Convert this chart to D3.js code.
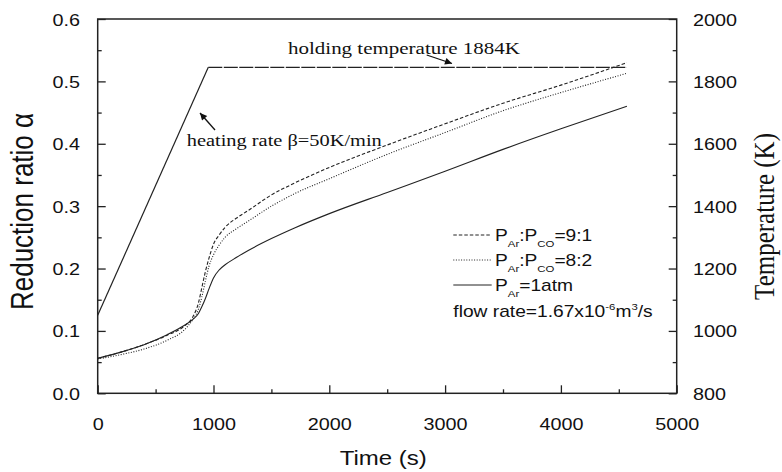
<!DOCTYPE html>
<html>
<head>
<meta charset="utf-8">
<script src="https://cdn.jsdelivr.net/npm/d3@7"></script>
<style>
  body { margin: 0; background: #fff; }
  .sans { font-family: "Liberation Sans", Arial, sans-serif; fill: #111; }
  .serif { font-family: "Liberation Serif", "Times New Roman", serif; fill: #111; }
  .axis path, .axis line { stroke: #222; }
</style>
</head>
<body>
<svg id="chart"></svg>
<script>
// svg size and plot margins
const width = 782;
const height = 472;

const margin = {
  top: 19,
  bottom: 78.7,
  left: 97.7,
  right: 105.3
};

const plotWidth = width - margin.left - margin.right;
const plotHeight = height - margin.top - margin.bottom;

// the original figure is stretched a bit sideways, so its text is too
const SX = 1.2;

// tick values
const timeTicks = [0, 1000, 2000, 3000, 4000, 5000];
const timeMinor = [500, 1500, 2500, 3500, 4500];
const alphaTicks = [0.0, 0.1, 0.2, 0.3, 0.4, 0.5, 0.6];
const alphaMinor = [0.05, 0.15, 0.25, 0.35, 0.45, 0.55];
const tempTicks = [800, 1000, 1200, 1400, 1600, 1800, 2000];
const tempMinor = [900, 1100, 1300, 1500, 1700, 1900];

// reduction curves
const time = [0, 200, 400, 600, 750, 820, 870, 900, 930, 960, 1000, 1050, 1100, 1200,
  1300, 1500, 1700, 2000, 2500, 3000, 3500, 4000, 4570];
const alpha91 = [0.056, 0.066, 0.078, 0.093, 0.108, 0.122, 0.145, 0.170, 0.195, 0.216, 0.239,
  0.254, 0.266, 0.281, 0.293, 0.318, 0.337, 0.362, 0.398, 0.432, 0.465, 0.494, 0.530];
const alpha82 = [0.055, 0.062, 0.071, 0.085, 0.102, 0.118, 0.135, 0.155, 0.180, 0.203, 0.222,
  0.238, 0.250, 0.264, 0.276, 0.300, 0.320, 0.344, 0.383, 0.418, 0.453, 0.482, 0.513];
const alphaAr = [0.056, 0.066, 0.078, 0.094, 0.109, 0.118, 0.128, 0.139, 0.152, 0.167, 0.185,
  0.198, 0.206, 0.218, 0.229, 0.248, 0.265, 0.288, 0.322, 0.356, 0.391, 0.424, 0.460];

// furnace temperature: 50 K/min ramp then hold
const tempTime = [0, 955, 4570];
const tempK = [1050, 1845, 1845];

const series = [
  {name: "9:1", values: alpha91, dash: "3.5,2"},
  {name: "8:2", values: alpha82, dash: "1,1.6"},
  {name: "1atm", values: alphaAr, dash: null}
];

const svg = d3.select("#chart")
  .attr("width", width)
  .attr("height", height);

const plot = svg.append("g")
  .attr("id", "plot")
  .attr("transform", translate(margin.left, margin.top));

const xScale = d3.scaleLinear()
  .domain([0, 5000])
  .range([0, plotWidth]);

const yScale = d3.scaleLinear()
  .domain([0, 0.6])
  .range([plotHeight, 0]);

const tScale = d3.scaleLinear()
  .domain([800, 2000])
  .range([plotHeight, 0]);

drawAxis();
drawLines();
drawTemperature();
drawLegend();
drawTitles();

function drawAxis() {
  // frame
  plot.append("rect")
    .attr("width", plotWidth)
    .attr("height", plotHeight)
    .attr("fill", "none")
    .attr("stroke", "#222")
    .attr("stroke-width", 1.5);

  // minor ticks first, no labels
  plot.append("g").attr("class", "axis")
    .attr("transform", translate(0, plotHeight))
    .call(d3.axisBottom(xScale).tickValues(timeMinor).tickSize(-4).tickFormat(""))
    .select("path.domain").remove();
  plot.append("g").attr("class", "axis")
    .call(d3.axisLeft(yScale).tickValues(alphaMinor).tickSize(-4).tickFormat(""))
    .select("path.domain").remove();
  plot.append("g").attr("class", "axis")
    .attr("transform", translate(plotWidth, 0))
    .call(d3.axisRight(tScale).tickValues(tempMinor).tickSize(-4).tickFormat(""))
    .select("path.domain").remove();

  let xAxis = plot.append("g").attr("id", "x-axis").attr("class", "axis")
    .attr("transform", translate(0, plotHeight))
    .call(d3.axisBottom(xScale).tickValues(timeTicks).tickSize(-8).tickFormat(d3.format("d")));
  xAxis.select("path.domain").remove();
  xAxis.selectAll("text")
    .attr("y", 36.7)
    .attr("dy", null);

  let yAxis = plot.append("g").attr("id", "y-axis").attr("class", "axis")
    .call(d3.axisLeft(yScale).tickValues(alphaTicks).tickSize(-8).tickFormat(d3.format(".1f")));
  yAxis.select("path.domain").remove();
  yAxis.selectAll("text")
    .attr("x", -17.7 / SX)
    .attr("y", 6)
    .attr("dy", null);

  let tAxis = plot.append("g").attr("id", "t-axis").attr("class", "axis")
    .attr("transform", translate(plotWidth, 0))
    .call(d3.axisRight(tScale).tickValues(tempTicks).tickSize(-8).tickFormat(d3.format("d")));
  tAxis.select("path.domain").remove();
  tAxis.selectAll("text")
    .attr("x", 16.3 / SX)
    .attr("y", 6)
    .attr("dy", null);

  plot.selectAll(".axis line").attr("stroke-width", 1.3);
  plot.selectAll(".axis text")
    .attr("class", "sans")
    .attr("font-size", 16.5)
    .attr("transform", "scale(" + SX + ",1)");
}

function drawLines() {
  let line = d3.line()
    .x((d, i) => xScale(time[i]))
    .y(d => yScale(d))
    .curve(d3.curveMonotoneX);

  plot.append("g")
    .attr("id", "curves")
    .selectAll("path")
    .data(series)
    .enter()
    .append("path")
    .attr("d", d => line(d.values))
    .attr("fill", "none")
    .attr("stroke", "#222")
    .attr("stroke-width", 1.1)
    .attr("stroke-dasharray", d => d.dash);
}

function drawTemperature() {
  let pts = tempTime.map((t, i) => [xScale(t), tScale(tempK[i])]);
  let line = d3.line();

  // ramp is solid, the hold looks like overlapped dashed runs
  plot.append("path")
    .attr("d", line(pts.slice(0, 2)))
    .attr("fill", "none")
    .attr("stroke", "#222")
    .attr("stroke-width", 1.2);
  plot.append("path")
    .attr("d", line(pts.slice(1)))
    .attr("fill", "none")
    .attr("stroke", "#222")
    .attr("stroke-width", 1.3)
    .attr("stroke-dasharray", "14,1.5");

  // arrow heads for the notes
  svg.append("defs").append("marker")
    .attr("id", "arrow")
    .attr("viewBox", "0 0 10 10")
    .attr("refX", 10)
    .attr("refY", 5)
    .attr("markerWidth", 9)
    .attr("markerHeight", 7)
    .attr("markerUnits", "userSpaceOnUse")
    .attr("orient", "auto")
    .append("path")
    .attr("d", "M0,0L10,5L0,10Z")
    .attr("fill", "#111");

  svg.append("line")
    .attr("x1", 426.7).attr("y1", 55)
    .attr("x2", 452).attr("y2", 63.5)
    .attr("stroke", "#111")
    .attr("stroke-width", 1.3)
    .attr("marker-end", "url(#arrow)");

  svg.append("line")
    .attr("x1", 215).attr("y1", 130)
    .attr("x2", 200).attr("y2", 113)
    .attr("stroke", "#111")
    .attr("stroke-width", 1.3)
    .attr("marker-end", "url(#arrow)");

  stretchedText(288, 53.5, "holding temperature 1884K", "serif", 17.5);
  stretchedText(186.7, 145.5, "heating rate \u03b2=50K/min", "serif", 17);
}

function drawLegend() {
  let x0 = 453.3;
  let x1 = 491.7;
  let rows = [235, 260, 285];

  svg.append("g")
    .attr("id", "legend-lines")
    .selectAll("line")
    .data(series)
    .enter()
    .append("line")
    .attr("x1", x0)
    .attr("x2", x1)
    .attr("y1", (d, i) => rows[i])
    .attr("y2", (d, i) => rows[i])
    .attr("stroke", "#222")
    .attr("stroke-width", 1)
    .attr("stroke-dasharray", d => d.dash);

  let labels = [
    [["P", 0], ["Ar", 1], [":P", 0], ["CO", 1], ["=9:1", 0]],
    [["P", 0], ["Ar", 1], [":P", 0], ["CO", 1], ["=8:2", 0]],
    [["P", 0], ["Ar", 1], ["=1atm", 0]]
  ];

  labels.forEach((parts, i) => {
    let t = stretchedText(495, rows[i] + 5.5, "", "sans", 16);
    addParts(t, parts);
  });

  let flow = stretchedText(453.3, 316.7, "", "sans", 16);
  addParts(flow, [["flow rate=1.67x10", 0], ["-6", -1], ["m", 0], ["3", -1], ["/s", 0]]);
}

// part kinds: 0 normal, 1 subscript, -1 superscript
function addParts(textSel, parts) {
  let shift = 0;
  parts.forEach(p => {
    let target = p[1] == 1 ? 6 : (p[1] == -1 ? -6.5 : 0);
    textSel.append("tspan")
      .attr("dy", target - shift)
      .attr("font-size", p[1] == 0 ? 16 : 9.5)
      .text(p[0]);
    shift = target;
  });
}

function stretchedText(x, y, str, cls, size) {
  return svg.append("text")
    .attr("class", cls)
    .attr("font-size", size)
    .attr("transform", translate(x, y) + " scale(" + SX + ",1)")
    .text(str);
}

function drawTitles() {
  stretchedText(383.3, 465, "Time (s)", "sans", 20)
    .attr("text-anchor", "middle");

  svg.append("text")
    .attr("class", "sans")
    .attr("font-size", 26)
    .attr("text-anchor", "start")
    .attr("transform", translate(33, 310) + " scale(" + SX + ",1) rotate(-90)")
    .text("Reduction ratio \u03b1");

  svg.append("text")
    .attr("class", "serif")
    .attr("font-size", 25)
    .attr("text-anchor", "end")
    .attr("transform", translate(774, 133) + " scale(" + SX + ",1) rotate(-90)")
    .text("Temperature (K)");
}

function translate(x, y) {
  return "translate(" + String(x) + "," + String(y) + ")";
}
</script>
</body>
</html>
